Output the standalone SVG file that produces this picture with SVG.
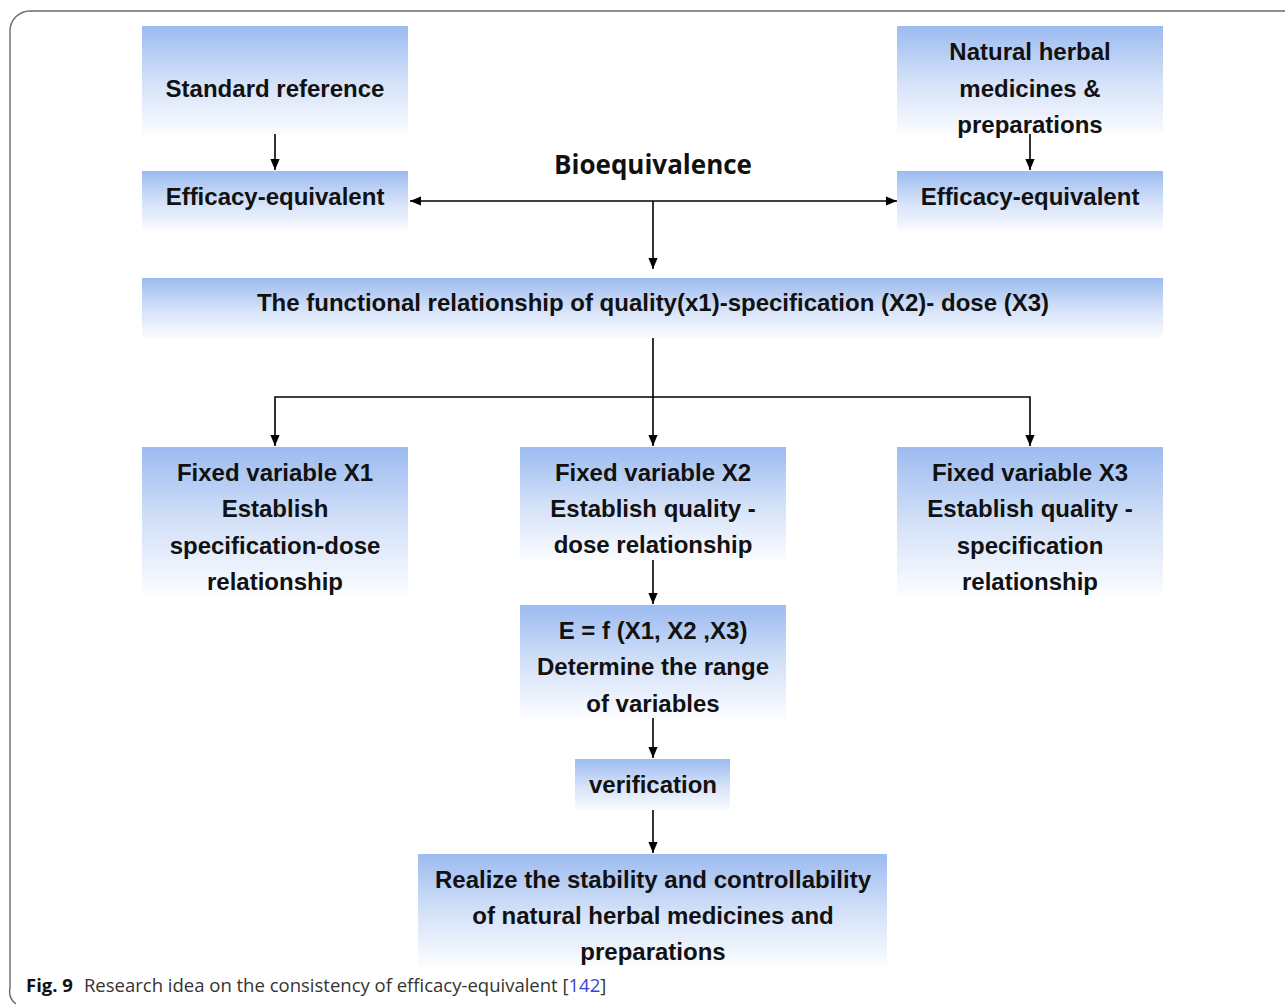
<svg xmlns="http://www.w3.org/2000/svg" width="1285" height="1006" viewBox="0 0 1285 1006">
  <defs>
    <linearGradient id="boxFill" x1="0" y1="0" x2="0" y2="1">
      <stop offset="0" stop-color="#9cbbf0"/>
      <stop offset="0.5" stop-color="#d2e0f8"/>
      <stop offset="1" stop-color="#fbfcff"/>
    </linearGradient>
    <marker id="arrow" viewBox="0 0 10 10" refX="10" refY="5" markerWidth="11" markerHeight="11" markerUnits="userSpaceOnUse" orient="auto-start-reverse">
      <path d="M0,0.8 L10,5 L0,9.2 Z" fill="#000"/>
    </marker>
  </defs>
  <style>
    .box { fill: url(#boxFill); }
    .lbl { font-family: "Liberation Sans", Arial, sans-serif; font-weight: bold; font-size: 24px; fill: #111; text-anchor: middle; }
    .title { font-family: "Open Sans", sans-serif; font-weight: bold; font-size: 26px; fill: #111; text-anchor: middle; }
    .conn { fill: none; stroke: #000; stroke-width: 1.6; }
    .cap { font-family: "Open Sans", sans-serif; font-size: 18.5px; fill: #333; }
  </style>

  <rect width="1285" height="1006" fill="#fff"/>
  <!-- figure frame -->
  <path d="M1290,11 H30 A20,20 0 0 0 10,31 V988 A16,16 0 0 0 16,1004" fill="none" stroke="#6a6a6a" stroke-width="1.4"/>

  <g id="standard-reference">
    <rect class="box" x="142" y="26" width="266" height="108"/>
    <text class="lbl" x="275" y="97">Standard reference</text>
  </g>
  <g id="natural-herbal">
    <rect class="box" x="897" y="26" width="266" height="108"/>
    <text class="lbl" x="1030" y="60">Natural herbal</text>
    <text class="lbl" x="1030" y="97">medicines &amp;</text>
    <text class="lbl" x="1030" y="133">preparations</text>
  </g>
  <g id="efficacy-left">
    <rect class="box" x="142" y="171" width="266" height="60"/>
    <text class="lbl" x="275" y="205">Efficacy-equivalent</text>
  </g>
  <g id="efficacy-right">
    <rect class="box" x="897" y="171" width="266" height="60"/>
    <text class="lbl" x="1030" y="205">Efficacy-equivalent</text>
  </g>
  <g id="bioequivalence">
    <text class="title" x="653" y="174">Bioequivalence</text>
  </g>
  <g id="functional-relationship">
    <rect class="box" x="142" y="278" width="1021" height="60"/>
    <text class="lbl" x="653" y="311">The functional relationship of quality(x1)-specification (X2)- dose (X3)</text>
  </g>
  <g id="fixed-x1">
    <rect class="box" x="142" y="447" width="266" height="147"/>
    <text class="lbl" x="275" y="481">Fixed variable X1</text>
    <text class="lbl" x="275" y="517">Establish</text>
    <text class="lbl" x="275" y="554">specification-dose</text>
    <text class="lbl" x="275" y="590">relationship</text>
  </g>
  <g id="fixed-x2">
    <rect class="box" x="520" y="447" width="266" height="113"/>
    <text class="lbl" x="653" y="481">Fixed variable X2</text>
    <text class="lbl" x="653" y="517">Establish quality -</text>
    <text class="lbl" x="653" y="553">dose relationship</text>
  </g>
  <g id="fixed-x3">
    <rect class="box" x="897" y="447" width="266" height="147"/>
    <text class="lbl" x="1030" y="481">Fixed variable X3</text>
    <text class="lbl" x="1030" y="517">Establish quality -</text>
    <text class="lbl" x="1030" y="554">specification</text>
    <text class="lbl" x="1030" y="590">relationship</text>
  </g>
  <g id="function-e">
    <rect class="box" x="520" y="605" width="266" height="113"/>
    <text class="lbl" x="653" y="639">E = f (X1, X2 ,X3)</text>
    <text class="lbl" x="653" y="675">Determine the range</text>
    <text class="lbl" x="653" y="712">of variables</text>
  </g>
  <g id="verification">
    <rect class="box" x="575" y="759" width="155" height="51"/>
    <text class="lbl" x="653" y="793">verification</text>
  </g>
  <g id="realize">
    <rect class="box" x="418" y="854" width="469" height="112"/>
    <text class="lbl" x="653" y="888">Realize the stability and controllability</text>
    <text class="lbl" x="653" y="924">of natural herbal medicines and</text>
    <text class="lbl" x="653" y="960">preparations</text>
  </g>

  <g id="connectors">
    <line class="conn" x1="275" y1="134" x2="275" y2="170" marker-end="url(#arrow)"/>
    <line class="conn" x1="1030" y1="134" x2="1030" y2="170" marker-end="url(#arrow)"/>
    <line class="conn" x1="410" y1="201" x2="897" y2="201" marker-start="url(#arrow)" marker-end="url(#arrow)"/>
    <line class="conn" x1="653" y1="201" x2="653" y2="269" marker-end="url(#arrow)"/>
    <line class="conn" x1="653" y1="338" x2="653" y2="446" marker-end="url(#arrow)"/>
    <polyline class="conn" points="275,446 275,397 1030,397 1030,446" marker-start="url(#arrow)" marker-end="url(#arrow)"/>
    <line class="conn" x1="653" y1="560" x2="653" y2="604" marker-end="url(#arrow)"/>
    <line class="conn" x1="653" y1="718" x2="653" y2="758" marker-end="url(#arrow)"/>
    <line class="conn" x1="653" y1="810" x2="653" y2="853" marker-end="url(#arrow)"/>
  </g>

  <g id="caption">
    <text class="cap" x="26" y="992"><tspan font-weight="bold" fill="#111">Fig. 9</tspan><tspan dx="11">Research idea on the consistency of efficacy-equivalent [</tspan><tspan fill="#3347d6">142</tspan><tspan>]</tspan></text>
  </g>
</svg>
